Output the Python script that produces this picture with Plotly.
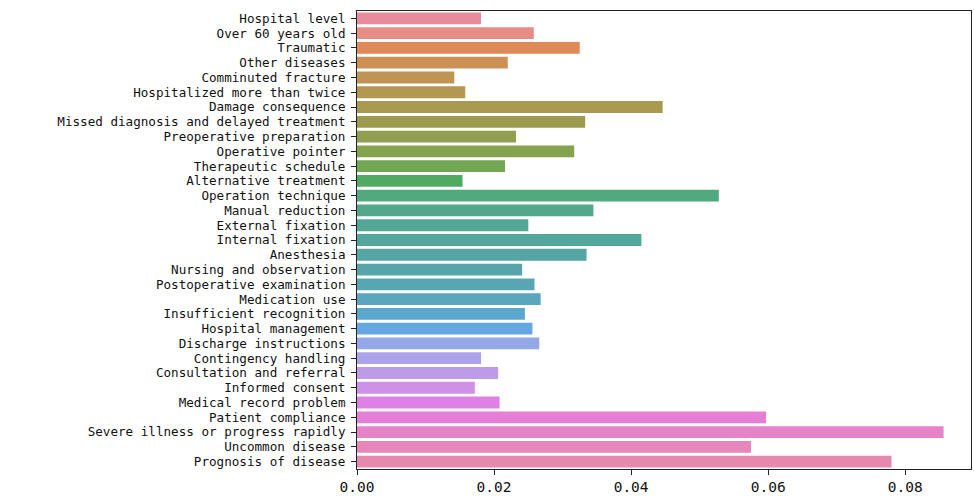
import math
import colorsys
import plotly.graph_objects as go

categories = [
    "Hospital level", "Over 60 years old", "Traumatic", "Other diseases",
    "Comminuted fracture", "Hospitalized more than twice", "Damage consequence",
    "Missed diagnosis and delayed treatment", "Preoperative preparation",
    "Operative pointer", "Therapeutic schedule", "Alternative treatment",
    "Operation technique", "Manual reduction", "External fixation",
    "Internal fixation", "Anesthesia", "Nursing and observation",
    "Postoperative examination", "Medication use", "Insufficient recognition",
    "Hospital management", "Discharge instructions", "Contingency handling",
    "Consultation and referral", "Informed consent", "Medical record problem",
    "Patient compliance", "Severe illness or progress rapidly",
    "Uncommon disease", "Prognosis of disease",
]
values = [
    0.0181, 0.0258, 0.0325, 0.0220, 0.0142, 0.0158, 0.0446, 0.0333, 0.0232,
    0.0317, 0.0216, 0.0154, 0.0528, 0.0345, 0.0250, 0.0415, 0.0335, 0.0241,
    0.0259, 0.0268, 0.0245, 0.0256, 0.0266, 0.0181, 0.0206, 0.0172, 0.0208,
    0.0597, 0.0856, 0.0575, 0.0780,
]
x_ticks = [0.0, 0.02, 0.04, 0.06, 0.08]
x_tick_labels = ["0.00", "0.02", "0.04", "0.06", "0.08"]

# ---- seaborn-like husl palette (style only) ----
_M = [[3.2406, -1.5372, -0.4986],
      [-0.9689, 1.8758, 0.0415],
      [0.0557, -0.2040, 1.0570]]
_refU, _refV = 0.19784, 0.46834


def _max_chroma(L, H):
    hrad = math.radians(H)
    sinH, cosH = math.sin(hrad), math.cos(hrad)
    sub1 = (L + 16) ** 3 / 1560896.0
    sub2 = sub1 if sub1 > 0.008856 else (L / 903.3)
    result = float("inf")
    for m1, m2, m3 in _M:
        top = (0.99915 * m1 + 1.05122 * m2 + 1.14460 * m3) * sub2
        rbottom = 0.86330 * m3 - 0.17266 * m2
        lbottom = 0.12949 * m3 - 0.38848 * m1
        bottom = (rbottom * sinH + lbottom * cosH) * sub2
        for t in (0.0, 1.0):
            C = L * (top - 1.05122 * t) / (bottom + 0.17266 * sinH * t)
            if 0.0 < C < result:
                result = C
    return result


def _husl_to_rgb(H, S, L):
    C = _max_chroma(L, H) / 100.0 * S
    hr = math.radians(H)
    U, V = math.cos(hr) * C, math.sin(hr) * C
    t = (L + 16.0) / 116.0
    varY = t ** 3 if t ** 3 > 0.008856 else (116.0 * t - 16.0) / 903.3
    varU = U / (13.0 * L) + _refU
    varV = V / (13.0 * L) + _refV
    Y = varY
    X = 0.0 - (9.0 * Y * varU) / ((varU - 4.0) * varV - varU * varV)
    Z = (9.0 * Y - (15.0 * varV * Y) - (varV * X)) / (3.0 * varV)
    out = []
    for row in _M:
        c = row[0] * X + row[1] * Y + row[2] * Z
        c = 12.92 * c if c <= 0.0031308 else 1.055 * c ** (1 / 2.4) - 0.055
        out.append(min(max(c, 0.0), 1.0))
    return out


def _palette(n, h=0.01, s=0.9, l=0.65, sat=0.75, wash=0.08):
    cols = []
    for i in range(n):
        hue = ((i / n) + h) % 1 * 359
        r, g, b = _husl_to_rgb(hue, s * 99, l * 99)
        hh, ll, ss = colorsys.rgb_to_hls(r, g, b)
        r, g, b = colorsys.hls_to_rgb(hh, ll, ss * sat)
        r, g, b = [c + (1 - c) * wash for c in (r, g, b)]
        cols.append("rgb(%d,%d,%d)" % (round(r * 255), round(g * 255), round(b * 255)))
    return cols


colors = _palette(len(categories))

fig = go.Figure(go.Bar(
    x=values, y=categories, orientation="h",
    marker=dict(color=colors, line=dict(width=0)),
    width=0.8,
))

font_family = "DejaVu Sans Mono"
fig.update_layout(
    width=974, height=497,
    margin=dict(l=357, r=3, t=11, b=28, autoexpand=False),
    paper_bgcolor="white", plot_bgcolor="white",
    showlegend=False,
    font=dict(family=font_family, size=13, color="#111"),
)
fig.update_xaxes(
    range=[0, 0.0896], tickmode="array", tickvals=x_ticks, ticktext=x_tick_labels,
    showgrid=False, zeroline=False, automargin=False,
    showline=True, linecolor="#222", linewidth=1, mirror=True,
    ticks="outside", ticklen=5, tickcolor="#222",
    tickfont=dict(family=font_family, size=14.5, color="#111"),
)
fig.update_yaxes(
    autorange=False, range=[30.5, -0.5],
    categoryorder="array", categoryarray=categories,
    tickmode="array", tickvals=categories, ticktext=categories,
    showgrid=False, zeroline=False, automargin=False,
    showline=True, linecolor="#222", linewidth=1, mirror=True,
    ticks="outside", ticklen=5, tickcolor="#222", ticklabelstandoff=3,
    tickfont=dict(family=font_family, size=12.6, color="#111"),
)

fig.write_html(
    "out.html",
    config={"displayModeBar": False},
    post_script="document.body.style.margin='0';document.body.style.overflow='hidden';",
)
